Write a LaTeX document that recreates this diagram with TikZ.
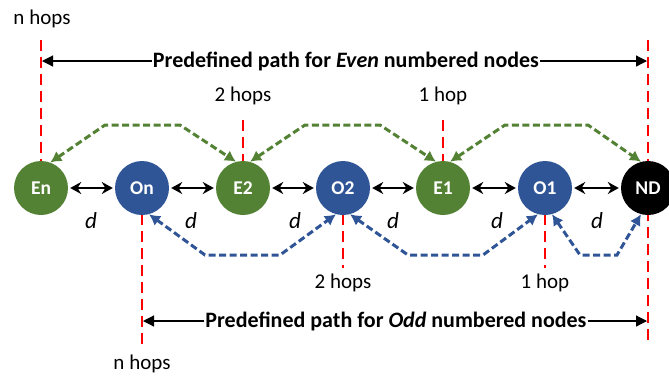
\documentclass[tikz,border=0pt]{standalone}
\usepackage{fontspec}
\setmainfont{Carlito}
\usetikzlibrary{arrows.meta}
\definecolor{evgreen}{HTML}{548235}
\definecolor{odblue}{HTML}{2F5597}
\definecolor{redl}{HTML}{FF0000}
\begin{document}
\begin{tikzpicture}[x=1pt,y=-1pt,
  nd/.style={circle, minimum size=54pt, inner sep=0pt, text=white, font=\fontsize{19.5}{19.5}\selectfont\bfseries},
  lbl/.style={font=\fontsize{21}{21}\selectfont, inner sep=1pt},
  dlbl/.style={font=\fontsize{23}{23}\selectfont\itshape, inner sep=1pt},
  plbl/.style={font=\fontsize{22}{22}\selectfont\bfseries, inner sep=1pt},
  redline/.style={draw=redl, line width=1.8pt, dash pattern=on 11pt off 6pt},
  dist/.style={line width=2.2pt, {Stealth[length=11pt,width=12pt]}-{Stealth[length=11pt,width=12pt]}, shorten <=2pt, shorten >=2pt},
  evpath/.style={draw=evgreen, line width=3pt, dash pattern=on 7pt off 3.5pt, {Latex[length=11pt,width=12pt]}-{Latex[length=11pt,width=12pt]}},
  odpath/.style={draw=odblue, line width=3pt, dash pattern=on 7pt off 3.5pt, {Latex[length=11pt,width=12pt]}-{Latex[length=11pt,width=12pt]}},
  rng/.style={line width=1.2pt, -{Triangle[length=11pt,width=11pt]}}
]
\useasboundingbox (0,0) rectangle (669,376);

% coordinates for red line ends
\coordinate (EnTop) at (41,40);
\coordinate (NDTop) at (648,40);
\coordinate (NDBot) at (648,345);
\coordinate (OnBot) at (142,345);
\coordinate (E2Top) at (243,120);
\coordinate (E1Top) at (443,120);
\coordinate (O2Bot) at (343,268);
\coordinate (O1Bot) at (545,268);

% red dashed lines (behind nodes)
\draw[redline] (EnTop) -- (41,162);
\draw[redline] (NDTop) -- (NDBot);
\draw[redline] (E2Top) -- (243,162);
\draw[redline] (E1Top) -- (443,162);
\draw[redline] (142,214) -- (OnBot);
\draw[redline] (343,214) -- (O2Bot);
\draw[redline] (545,214) -- (O1Bot);

% nodes
\node[nd, fill=evgreen] (En) at (41,188) {En};
\node[nd, fill=odblue] (On) at (142,188) {On};
\node[nd, fill=evgreen] (E2) at (243,188) {E2};
\node[nd, fill=odblue] (O2) at (343,188) {O2};
\node[nd, fill=evgreen] (E1) at (443,188) {E1};
\node[nd, fill=odblue] (O1) at (545,188) {O1};
\node[nd, fill=black] (ND) at (648,188) {ND};

% distance arrows
\draw[dist] (En) -- (On);
\draw[dist] (On) -- (E2);
\draw[dist] (E2) -- (O2);
\draw[dist] (O2) -- (E1);
\draw[dist] (E1) -- (O1);
\draw[dist] (O1) -- (ND);

% d labels
\node[dlbl] (d1) at (91,221) {d};
\node[dlbl] (d2) at (191,221) {d};
\node[dlbl] (d3) at (295,221) {d};
\node[dlbl] (d4) at (393,221) {d};
\node[dlbl] (d5) at (497,221) {d};
\node[dlbl] (d6) at (597,221) {d};

% even paths
\draw[evpath] (En.70) -- (105,125) -- (180,125) -- (E2.105);
\draw[evpath] (E2.75) -- (305,125) -- (380,125) -- (E1.105);
\draw[evpath] (E1.75) -- (505,125) -- (588,125) -- (ND.105);

% odd paths
\draw[odpath] (On.-75) -- (205,255) -- (280,255) -- (O2.-105);
\draw[odpath] (O2.-75) -- (408,255) -- (483,255) -- (O1.-105);
\draw[odpath] (O1.-75) -- (580,255) -- (617,255) -- (ND.-105);

% hop labels
\node[lbl] (nh1) at (42,19) {n hops};
\node[lbl] (h2a) at (243,96) {2 hops};
\node[lbl] (h1a) at (443,96) {1 hop};
\node[lbl] (h2b) at (343,283) {2 hops};
\node[lbl] (h1b) at (545,283) {1 hop};
\node[lbl] (nh2) at (142,364) {n hops};

% predefined path arrows
\node[plbl] (even) at (346,61) {Predefined path for \textit{Even} numbered nodes};
\coordinate (evL) at (42,61);
\coordinate (evR) at (647,61);
\draw[rng] (even.west) -- (evL);
\draw[rng] (even.east) -- (evR);

\node[plbl] (odd) at (396,321) {Predefined path for \textit{Odd} numbered nodes};
\coordinate (odL) at (143,321);
\coordinate (odR) at (647,321);
\draw[rng] (odd.west) -- (odL);
\draw[rng] (odd.east) -- (odR);
\end{tikzpicture}
\end{document}
